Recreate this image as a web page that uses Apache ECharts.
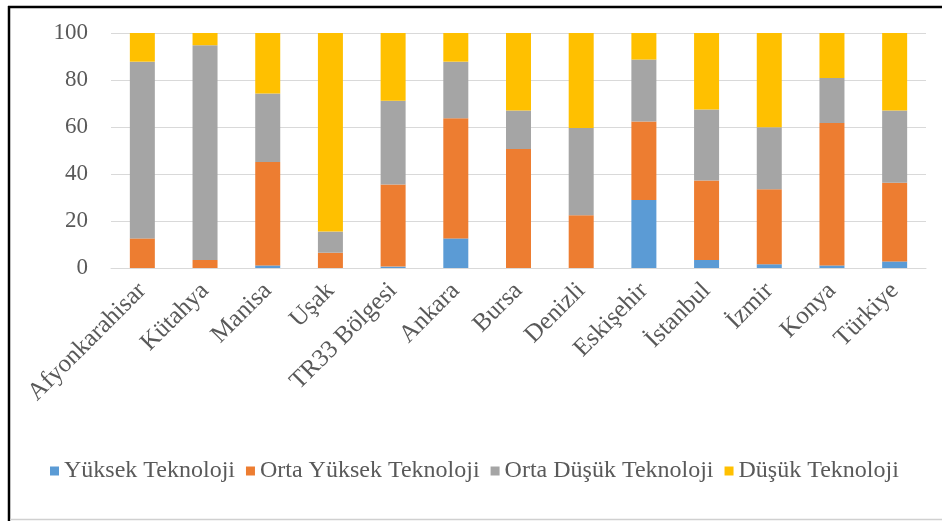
<!DOCTYPE html>
<html>
<head>
<meta charset="utf-8">
<script src="https://cdn.jsdelivr.net/npm/echarts@6/dist/echarts.min.js"></script>
<style>
  html, body { margin: 0; padding: 0; background: #fff; }
  #chart { width: 942px; height: 521px; }
</style>
</head>
<body>
<div id="chart"></div>
<script>
var categories = ['Afyonkarahisar', 'Kütahya', 'Manisa', 'Uşak', 'TR33 Bölgesi', 'Ankara', 'Bursa',
                  'Denizli', 'Eskişehir', 'İstanbul', 'İzmir', 'Konya', 'Türkiye'];
var seriesNames = ['Yüksek Teknoloji', 'Orta Yüksek Teknoloji', 'Orta Düşük Teknoloji', 'Düşük Teknoloji'];
var yuksek     = [0,    0,    1.1,  0,    0.6,  12.6, 0,    0,    28.9, 3.4,  1.6,  1.1,  2.8];
var ortaYuksek = [12.6, 3.4,  44.0, 6.5,  34.9, 51.1, 50.6, 22.4, 33.4, 33.8, 31.9, 60.6, 33.5];
var ortaDusuk  = [75.2, 91.4, 29.2, 9.0,  35.7, 24.1, 16.4, 37.2, 26.4, 30.2, 26.4, 19.2, 30.7];
var dusuk      = [12.2, 5.2,  25.7, 84.5, 28.8, 12.2, 33.0, 40.4, 11.3, 32.6, 40.1, 19.1, 33.0];
var yTicks = [0, 20, 40, 60, 80, 100];

var colors = ['#5B9BD5', '#ED7D31', '#A5A5A5', '#FFC000'];
var font = 'Liberation Serif';
var values = [yuksek, ortaYuksek, ortaDusuk, dusuk];

var myChart = echarts.init(document.getElementById('chart'));

var series = seriesNames.map(function (name, i) {
    return {
        name: name,
        type: 'bar',
        stack: 'total',
        barWidth: 25,
        itemStyle: { color: colors[i] },
        data: values[i]
    };
});

var legendText = { color: '#595959', fontSize: 24, fontFamily: font };

var option = {
    animation: false,
    backgroundColor: '#fff',
    color: colors,
    textStyle: { fontFamily: font },
    graphic: [
        // picture frame
        { type: 'line', shape: { x1: 8, y1: 7, x2: 942, y2: 7 }, style: { stroke: '#000', lineWidth: 2.5 } },
        { type: 'line', shape: { x1: 9, y1: 6, x2: 9, y2: 521 }, style: { stroke: '#000', lineWidth: 2.5 } },
        { type: 'line', shape: { x1: 10, y1: 519.5, x2: 942, y2: 519.5 }, style: { stroke: '#D0D0D0', lineWidth: 1.5 } }
    ],
    grid: {
        left: 111,
        right: 16,
        top: 33,
        bottom: 253
    },
    legend: {
        data: seriesNames.map(function (n) { return { name: n, textStyle: legendText }; }),
        left: 45,
        top: 454,
        icon: 'rect',
        itemWidth: 9,
        itemHeight: 9,
        itemGap: 11,
        textStyle: legendText,
        formatter: '{t|{name}}',
        // rich style so the serif face is used
        textStyle: {
            color: '#595959',
            fontSize: 24,
            fontFamily: font,
            rich: { t: { fontFamily: font, fontSize: 24, color: '#595959' } }
        }
    },
    xAxis: {
        type: 'category',
        data: categories,
        axisLine: { lineStyle: { color: '#D9D9D9', width: 1 } },
        axisTick: { show: false },
        axisLabel: {
            rotate: 45,
            interval: 0,
            margin: 19,
            color: '#595959',
            fontSize: 25,
            fontFamily: font
        }
    },
    yAxis: {
        type: 'value',
        min: 0,
        max: 100,
        interval: 20,
        axisLine: { show: false },
        axisTick: { show: false },
        splitLine: { lineStyle: { color: '#D9D9D9', width: 1 } },
        axisLabel: {
            margin: 23,
            color: '#595959',
            fontSize: 23,
            fontFamily: font,
            formatter: function (v) { return yTicks.indexOf(v) >= 0 ? String(v) : ''; }
        }
    },
    series: series
};

myChart.setOption(option);
</script>
</body>
</html>
